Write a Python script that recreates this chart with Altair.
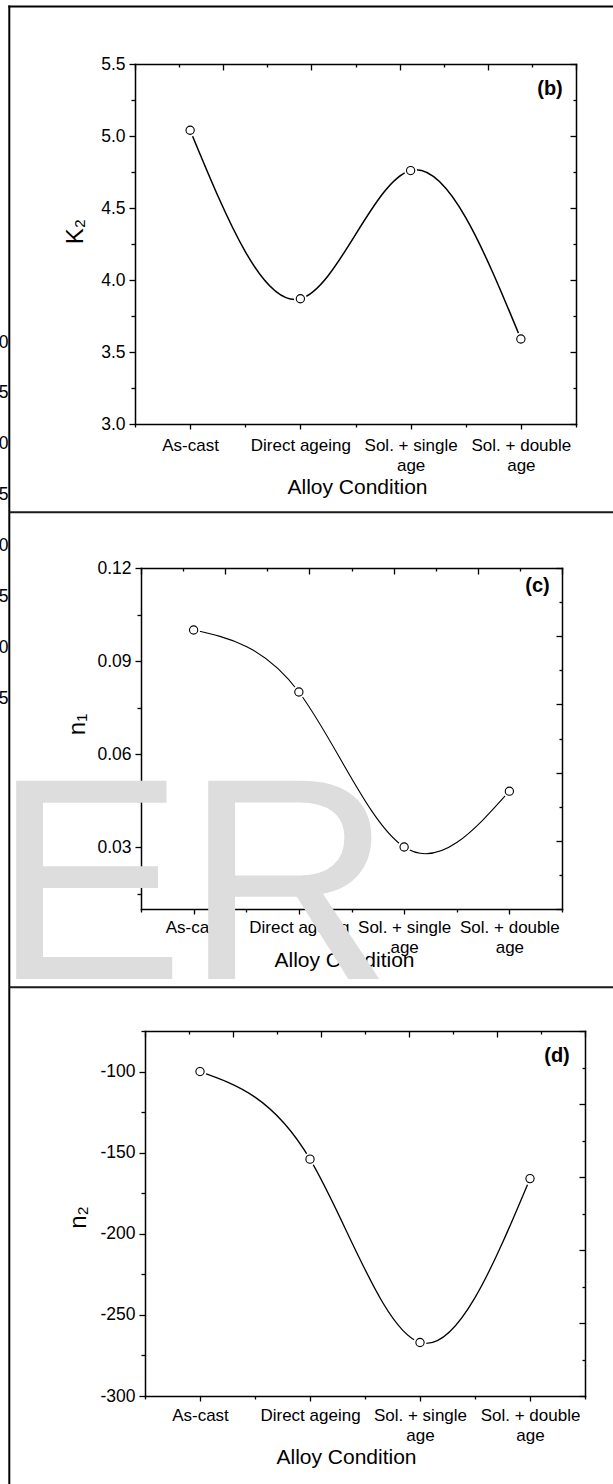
import altair as alt
import pandas as pd

# ---------------- data ----------------
conditions = ["As-cast", "Direct ageing", "Sol. + single\nage", "Sol. + double\nage"]
k2_values = [5.04, 3.87, 4.76, 3.59]
n1_values = [0.100, 0.080, 0.030, 0.048]
n2_values = [-100, -154, -267, -166]

k2_major = [3.0, 3.5, 4.0, 4.5, 5.0, 5.5]
k2_minor = [3.25, 3.75, 4.25, 4.75, 5.25]
n1_major = [0.03, 0.06, 0.09, 0.12]
n1_minor = [0.015, 0.045, 0.075, 0.105]
n2_major = [-300, -250, -200, -150, -100]
n2_minor = [-275, -225, -175, -125, -75]

frame_steps = list(range(11))
frame_major = [0, 2, 4, 6, 8, 10]
frame_minor = [1, 3, 5, 7, 9]

neighbour_ticks = [4.0, 3.5, 3.0, 2.5, 2.0, 1.5, 1.0, 0.5]
watermark_text = ["ER"]

# ---------------- layout ----------------
W, H = 613, 1484
FONT = "Liberation Sans"
N = len(conditions)
cond_major = list(range(N))
cond_minor = [i - 0.5 for i in range(N + 1)]


def cat_expr(cats):
    out = ""
    for i, c in enumerate(cats):
        arr = "[" + ",".join("'" + s + "'" for s in c.split("\n")) + "]"
        out += f"datum.value == {i} ? {arr} : "
    return out + "''"


panels = [
    dict(tag="(b)", ytitle="K\u2082", vals=k2_values, ydom=[3.0, 5.5], major=k2_major, minor=k2_minor,
         fmt=".1f", expr=None, left=135, right=576, top=64, bottom=424,
         tag_xy=(550, 89), yt=(75, 231), xt=(357, 487), lpad=8, lw=1.5),
    dict(tag="(c)", ytitle="n\u2081", vals=n1_values, ydom=[0.01, 0.12], major=n1_major, minor=n1_minor,
         fmt=".2f", expr=None, left=141, right=562, top=568, bottom=909,
         tag_xy=(537.5, 586), yt=(77, 724), xt=(344, 960), lpad=5, lw=1.1),
    dict(tag="(d)", ytitle="n\u2082", vals=n2_values, ydom=[-300, -75], major=n2_major, minor=n2_minor,
         fmt="d", expr="'' + datum.value", left=145, right=585, top=1031, bottom=1396,
         tag_xy=(557, 1056), yt=(78, 1217), xt=(346, 1457), lpad=6, lw=1.3),
]


def build_panel(p):
    df = pd.DataFrame({"pos": list(range(N)), "cond": conditions, "val": p["vals"]})
    xs = alt.Scale(domain=[-0.5, N - 0.5], range=[p["left"], p["right"]], nice=False, zero=False)
    ys = alt.Scale(domain=p["ydom"], range=[p["bottom"], p["top"]], nice=False, zero=False)

    x_axis = alt.Axis(orient="bottom", offset=p["bottom"] - H, values=cond_major,
                      labelExpr=cat_expr(conditions), labelFontSize=17, labelLineHeight=20,
                      labelPadding=p["lpad"], tickSize=5, labelOverlap=False, labelFlush=False,
                      labelBound=False, title="Alloy Condition", titleFontSize=21,
                      titleX=p["xt"][0], titleY=p["xt"][1] - p["bottom"],
                      titleBaseline="middle", titleAlign="center")
    y_kw = dict(orient="left", offset=-p["left"], values=p["major"], labelFontSize=17.5,
                labelPadding=4, tickSize=6, labelOverlap=False, labelFlush=False, labelBound=False,
                title=p["ytitle"], titleFontSize=24, titleX=p["yt"][0] - p["left"],
                titleY=p["yt"][1], titleBaseline="middle", titleAlign="center")
    if p["expr"]:
        y_kw["labelExpr"] = p["expr"]
    else:
        y_kw["format"] = p["fmt"]
    y_axis = alt.Axis(**y_kw)

    base = alt.Chart(df)
    line = base.mark_line(interpolate="natural", color="black", strokeWidth=p["lw"]).encode(
        x=alt.X("pos:Q", scale=xs, axis=x_axis), y=alt.Y("val:Q", scale=ys, axis=y_axis))
    halo = base.mark_point(shape="circle", filled=True, color="white", size=170, opacity=1).encode(
        x="pos:Q", y="val:Q")
    dots = base.mark_point(shape="circle", fill="white", stroke="black", strokeWidth=1.1,
                           size=68, opacity=1, fillOpacity=1).encode(x="pos:Q", y="val:Q")
    data_layer = alt.layer(line, halo, dots)

    minor = base.mark_point(opacity=0).encode(
        x=alt.X("pos:Q", scale=xs, axis=alt.Axis(orient="bottom", offset=p["bottom"] - H,
                                                  values=cond_minor, labels=False, domain=False,
                                                  tickSize=3, title="")),
        y=alt.Y("val:Q", scale=ys, axis=alt.Axis(orient="left", offset=-p["left"],
                                                 values=p["minor"], labels=False, domain=False,
                                                 tickSize=4, title="")))

    mdf = pd.DataFrame({"m": frame_steps})
    mxs = alt.Scale(domain=[0, 10], range=[p["left"], p["right"]], nice=False, zero=False)
    mys = alt.Scale(domain=[0, 10], range=[p["bottom"], p["top"]], nice=False, zero=False)
    mirrors = []
    for vals, size, dom in [(frame_major, 6, True), (frame_minor, 3, False)]:
        mirrors.append(alt.Chart(mdf).mark_point(opacity=0).encode(
            x=alt.X("m:Q", scale=mxs, axis=alt.Axis(orient="bottom", offset=p["top"] - H,
                                                    values=vals, labels=False, domain=dom,
                                                    tickSize=size, title="")),
            y=alt.Y("m:Q", scale=mys, axis=alt.Axis(orient="left", offset=-p["right"],
                                                    values=vals, labels=False, domain=dom,
                                                    tickSize=size, title=""))))

    tag = alt.Chart(pd.DataFrame({"t": [p["tag"]]})).mark_text(
        font=FONT, fontSize=20, fontWeight="bold", align="center", baseline="middle",
        color="black").encode(text="t:N", x=alt.value(p["tag_xy"][0]), y=alt.value(p["tag_xy"][1]))

    return [data_layer, minor] + mirrors + [tag]


one = pd.DataFrame({"k": [0]})

watermark = alt.Chart(pd.DataFrame({"w": watermark_text})).mark_text(
    font=FONT, fontSize=288, align="left", baseline="alphabetic", color="#dddddd").encode(
    text="w:N", x=alt.value(-7.5), y=alt.value(979))


def rule(x, x2, y, y2, w, c="black"):
    return alt.Chart(one).mark_rule(strokeWidth=w, color=c).encode(
        x=alt.value(x), x2=alt.value(x2), y=alt.value(y), y2=alt.value(y2))


frames = [
    rule(9.3, 9.3, 5.6, H, 2.0),
    rule(8.3, W, 6.5, 6.5, 1.8),
    rule(9.3, W, 512.3, 512.3, 1.9, "#1a1a1a"),
    rule(9.3, W, 987.3, 987.3, 1.9, "#1a1a1a"),
]

neighbour = alt.Chart(pd.DataFrame({"v": neighbour_ticks})).mark_point(opacity=0).encode(
    x=alt.value(0),
    y=alt.Y("v:Q", scale=alt.Scale(domain=[0.5, 4.0], range=[698, 342], nice=False, zero=False),
            axis=alt.Axis(orient="left", offset=-8, values=neighbour_ticks, format=".1f",
                          ticks=False, tickSize=0, domain=False, labelPadding=0, labelFontSize=17.5,
                          labelOverlap=False, labelFlush=False, labelBound=False, title="")))

layers = [watermark] + frames + [neighbour]
for p in panels:
    layers += build_panel(p)

chart = alt.layer(*layers).resolve_scale(x="independent", y="independent").properties(
    width=W, height=H, autosize=alt.AutoSizeParams(type="none"), padding=0
).configure_view(strokeWidth=0).configure_axis(
    grid=False, zindex=1, domainColor="black", tickColor="black", labelColor="black",
    titleColor="black", labelFont=FONT, titleFont=FONT, titleFontWeight="normal",
    domainWidth=1.5, tickWidth=1.3, domainCap="square"
)

chart.save("out.html", embed_options={"renderer": "svg", "actions": False})
